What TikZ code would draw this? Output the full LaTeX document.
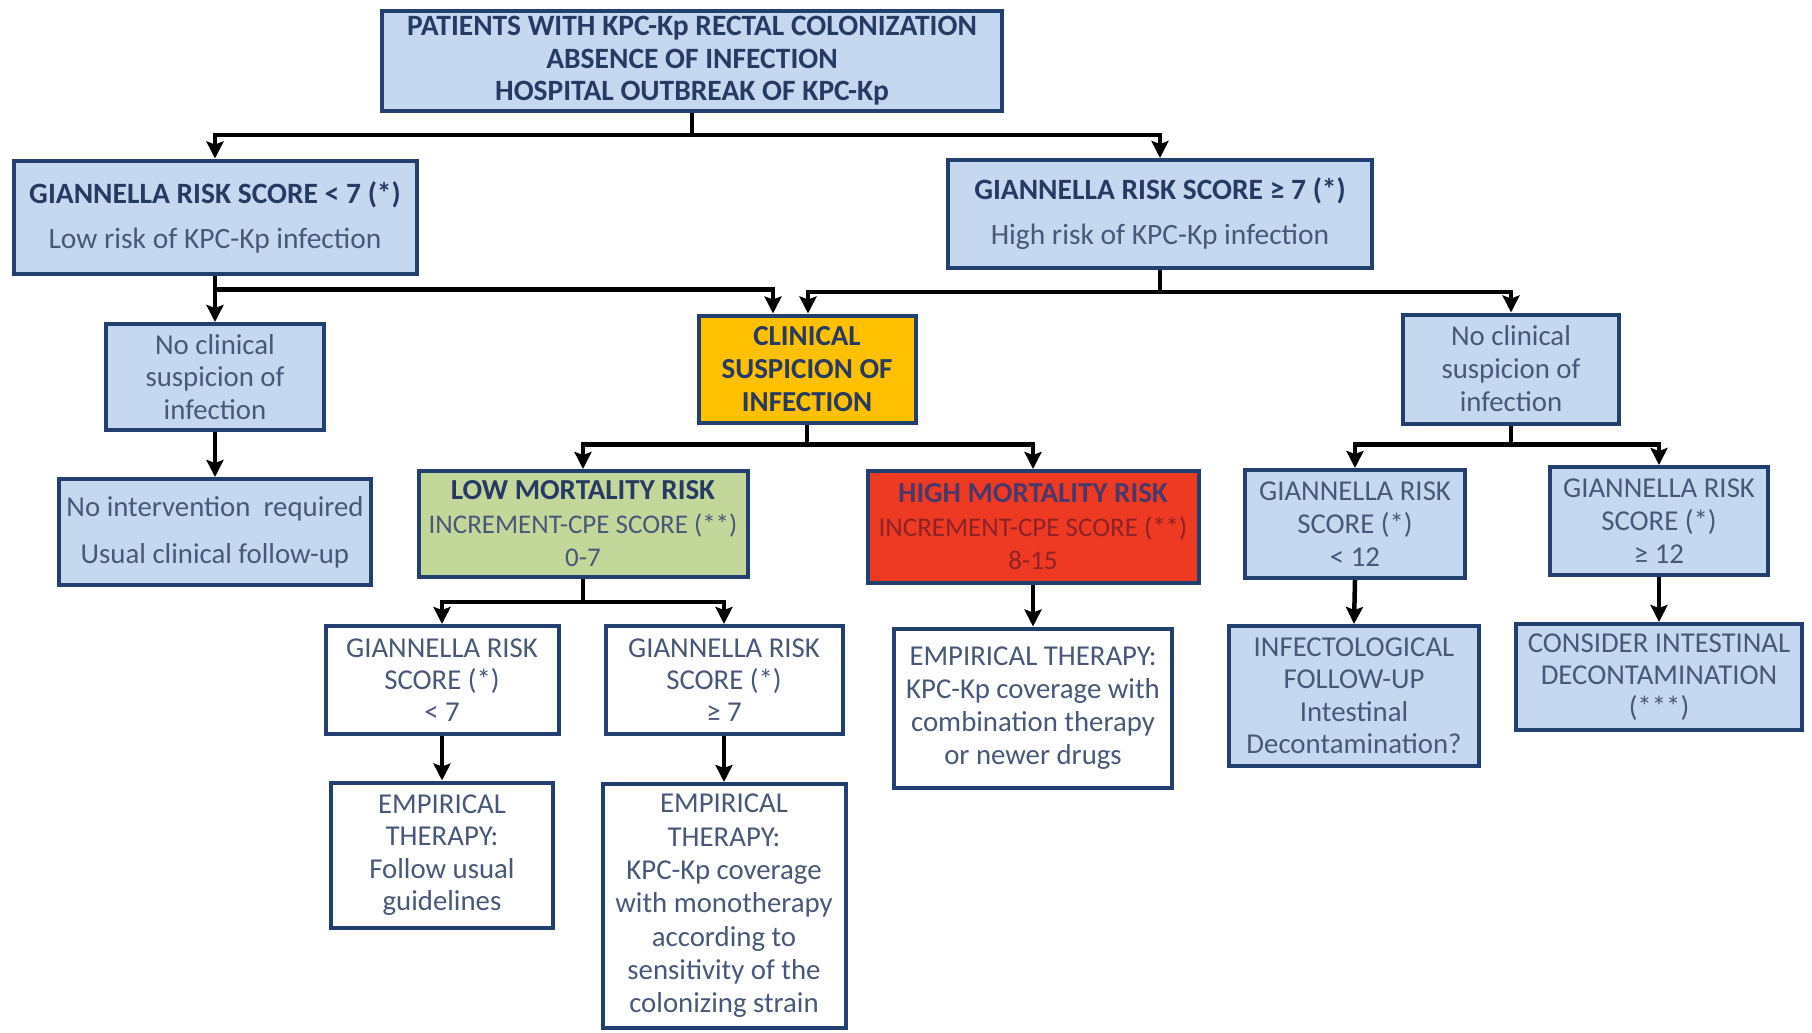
\documentclass[tikz,border=0pt]{standalone}
\usepackage{fontspec}
\setmainfont{Carlito}
\usetikzlibrary{arrows.meta}
\definecolor{bordercol}{HTML}{22406F}
\definecolor{lblue}{HTML}{C6D8EF}
\definecolor{txtb}{HTML}{263A64}
\definecolor{txtr}{HTML}{485878}
\definecolor{orangefill}{HTML}{FFC000}
\definecolor{greenfill}{HTML}{C4D79B}
\definecolor{redfill}{HTML}{EE3A22}
\definecolor{redtxt}{HTML}{8E2228}
\definecolor{redbold}{HTML}{4A3868}
\begin{document}
\begin{tikzpicture}[x=1pt,y=-1pt,
  box/.style={draw=bordercol, line width=4pt, fill=lblue, align=center, inner sep=0pt,
    text=txtr, font=\fontsize{28.8}{33}\selectfont},
  wbox/.style={box, fill=white},
  conn/.style={line width=4.5pt, black},
  arr/.style={line width=4.5pt, black, -{Stealth[length=17pt,width=17pt,inset=3pt]}}]
\fill[white] (0,0) rectangle (1812,1033);
\useasboundingbox (0,0) rectangle (1812,1033);

% level 0
\node[box, minimum width=620pt, minimum height=100pt, text=txtb,
  font=\fontsize{29.5}{32.5}\selectfont\bfseries] (top) at (692,61)
  {PATIENTS WITH KPC-Kp RECTAL COLONIZATION\\ABSENCE OF INFECTION\\HOSPITAL OUTBREAK OF KPC-Kp};

% level 1
\node[box, minimum width=403pt, minimum height=113pt, font=\fontsize{29.5}{33}\selectfont] (g7lo) at (215,217)
  {\textcolor{txtb}{\bfseries GIANNELLA RISK SCORE < 7 (*)}\\[12pt]Low risk of KPC-Kp infection};
\node[box, minimum width=424pt, minimum height=108pt, font=\fontsize{29.5}{33}\selectfont] (g7hi) at (1160,214)
  {\textcolor{txtb}{\bfseries GIANNELLA RISK SCORE ≥ 7 (*)}\\[12pt]High risk of KPC-Kp infection};

% level 2
\node[box, minimum width=218pt, minimum height=106pt, font=\fontsize{28.8}{32.5}\selectfont] (nc1) at (215,377)
  {No clinical\\suspicion of\\infection};
\node[box, fill=orangefill, text=txtb, minimum width=217pt, minimum height=107pt,
  font=\fontsize{29}{33}\selectfont\bfseries] (clin) at (807,369)
  {CLINICAL\\SUSPICION OF\\INFECTION};
\node[box, minimum width=216pt, minimum height=109pt, font=\fontsize{28.8}{33}\selectfont] (nc2) at (1511,369)
  {No clinical\\suspicion of\\infection};

% level 3
\node[box, minimum width=312pt, minimum height=106pt] (noint) at (215,532)
  {No intervention\ \ required\\[14pt]Usual clinical follow-up};
\node[box, fill=greenfill, minimum width=329pt, minimum height=106pt] (low) at (583,524)
  {\textcolor{txtb}{\fontsize{29}{33}\selectfont\bfseries LOW MORTALITY RISK}\\[1pt]
   {\fontsize{27}{30}\selectfont INCREMENT-CPE SCORE (**)}\\{\fontsize{27}{30}\selectfont 0-7}};
\node[box, fill=redfill, text=redtxt, minimum width=331pt, minimum height=112pt] (high) at (1033,527)
  {\textcolor{redbold}{\fontsize{29}{33}\selectfont\bfseries HIGH MORTALITY RISK}\\[1pt]
   {\fontsize{27}{30}\selectfont INCREMENT-CPE SCORE (**)}\\{\fontsize{27}{30}\selectfont 8-15}};
\node[box, minimum width=220pt, minimum height=108pt] (g12lo) at (1355,524)
  {GIANNELLA RISK\\SCORE (*)\\< 12};
\node[box, minimum width=218pt, minimum height=108pt] (g12hi) at (1659,521)
  {GIANNELLA RISK\\SCORE (*)\\≥ 12};

% level 4
\node[wbox, minimum width=233pt, minimum height=108pt, font=\fontsize{28.8}{32}\selectfont] (g7a) at (442,680)
  {GIANNELLA RISK\\SCORE (*)\\< 7};
\node[wbox, minimum width=237pt, minimum height=108pt, font=\fontsize{28.8}{32}\selectfont] (g7b) at (724,680)
  {GIANNELLA RISK\\SCORE (*)\\≥ 7};
\node[wbox, minimum width=278pt, minimum height=159pt] (emp3) at (1033,708)
  {EMPIRICAL THERAPY:\\KPC-Kp coverage with\\combination therapy\\or newer drugs};
\node[box, minimum width=250pt, minimum height=140pt, font=\fontsize{28.8}{32.5}\selectfont] (infect) at (1354,696)
  {INFECTOLOGICAL\\FOLLOW-UP\\Intestinal\\Decontamination?};
\node[box, minimum width=286pt, minimum height=106pt, font=\fontsize{28.8}{32}\selectfont] (consider) at (1659,677)
  {CONSIDER INTESTINAL\\DECONTAMINATION\\(***)};

% level 5
\node[wbox, minimum width=222pt, minimum height=145pt, font=\fontsize{28.8}{32.5}\selectfont] (emp1) at (442,855)
  {EMPIRICAL\\THERAPY:\\Follow usual\\guidelines};
\node[wbox, minimum width=243pt, minimum height=244pt, font=\fontsize{28.8}{33.3}\selectfont] (emp2) at (724,906)
  {EMPIRICAL\\THERAPY:\\KPC-Kp coverage\\with monotherapy\\according to\\sensitivity of the\\colonizing strain};

% connectors
\draw[conn] (top.south) -- ++(0,22) coordinate (f1);
\draw[arr] (f1) -| (g7lo.north);
\draw[arr] (f1) -| (g7hi.north);

\draw[conn] (g7lo.south) -- ++(0,14) coordinate (f2);
\draw[arr] (f2) -- (nc1.north);
\draw[arr] (f2) -| ([xshift=-34pt]clin.north);

\draw[conn] (g7hi.south) -- ++(0,22) coordinate (f3);
\draw[arr] (f3) -| ([xshift=1pt]clin.north);
\draw[arr] (f3) -| (nc2.north);

\draw[arr] (nc1.south) -- (noint.north);

\draw[conn] (clin.south) -- ++(0,20) coordinate (f4);
\draw[arr] (f4) -| (low.north);
\draw[arr] (f4) -| (high.north);

\draw[conn] (nc2.south) -- ++(0,19) coordinate (f5);
\draw[arr] (f5) -| (g12lo.north);
\draw[arr] (f5) -| (g12hi.north);

\draw[conn] (low.south) -- ++(0,23) coordinate (f6);
\draw[arr] (f6) -| (g7a.north);
\draw[arr] (f6) -| (g7b.north);

\draw[arr] (high.south) -- (emp3.north);
\draw[arr] (g12lo.south) -- (infect.north);
\draw[arr] (g12hi.south) -- (consider.north);
\draw[arr] (g7a.south) -- (emp1.north);
\draw[arr] (g7b.south) -- (emp2.north);
\end{tikzpicture}
\end{document}
